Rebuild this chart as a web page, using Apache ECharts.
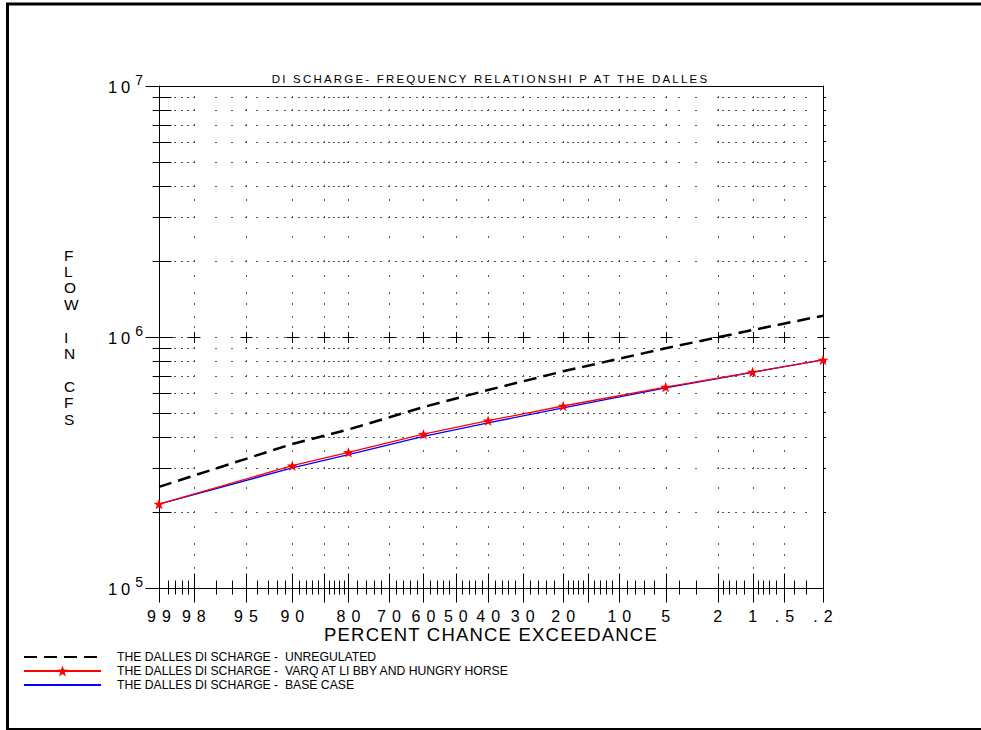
<!DOCTYPE html>
<html><head><meta charset="utf-8">
<script src="https://cdn.jsdelivr.net/npm/echarts@6/dist/echarts.min.js"></script>
<style>
html,body{margin:0;padding:0;background:#fff}
#c{width:981px;height:730px}
#c text[style*="11.5px"]{letter-spacing:2.2px}
#c text[style*="16px"]{letter-spacing:6px}
#c text[style*="16.5px"]{letter-spacing:4px}
#c text[style*="18.5px"]{letter-spacing:1.2px}
</style></head><body><div id="c"></div>
<script>
// ---- data (percent chance exceedance vs flow in cfs) ----
const exceedance  = [99, 90, 80, 60, 40, 20, 5, 1, 0.2];
const unregulated = [253000, 375000, 428000, 526000, 615000, 730000, 902000, 1066000, 1216000];
const varq        = [216000, 307000, 347000, 410000, 464000, 531000, 632000, 725000, 810000];
const baseCase    = [216000, 301000, 340000, 402000, 455000, 522000, 627000, 723000, 810000];

const seriesNames = [
  'THE DALLES DI SCHARGE -  UNREGULATED',
  'THE DALLES DI SCHARGE -  VARQ AT LI BBY AND HUNGRY HORSE',
  'THE DALLES DI SCHARGE -  BASE CASE'
];
const chartTitle = 'DI SCHARGE- FREQUENCY RELATIONSHI P AT THE DALLES';
const xTitle = 'PERCENT CHANCE EXCEEDANCE';
const yTitle = 'FLOW IN CFS';

// tick labels on probability axis
const xLabelExc  = [99, 98, 95, 90, 80, 70, 60, 50, 40, 30, 20, 10, 5, 2, 1, 0.5, 0.2];
const xLabelText = ['99','98','95','90','80','70','60','50','40','30','20','10','5','2','1','.5','.2'];
const xGridExc   = [98, 95, 90, 85, 80, 70, 60, 50, 40, 30, 20, 15, 10, 5, 2, 1, 0.5];
const xMinorExc  = [99,98.8,98.6,98.4,98.2,98,97,96,95,94,93,92,91,90,89,88,87,86,85,84,83,82,81,80,
  78,76,74,72,70,68,66,64,62,60,58,56,54,52,50,48,46,44,42,40,38,36,34,32,30,28,26,24,22,20,
  19,18,17,16,15,14,13,12,11,10,9,8,7,6,5,4,3,2,1.8,1.6,1.4,1.2,1,0.9,0.8,0.7,0.6,0.5,0.4,0.3,0.2];
const yLabelVals = [1e5, 1e6, 1e7];
const yMantissa  = [2,3,4,5,6,7,8,9];
const yDotMantissa = [1.1,1.2,1.35,1.5,1.75,2,2.5,3,3.5,4,5,6,7,8,9];

// ---- normal probability scale transform ----
function normInv(p){
  const a=[-3.969683028665376e+01,2.209460984245205e+02,-2.759285104469687e+02,1.383577518672690e+02,-3.066479806614716e+01,2.506628277459239e+00];
  const b=[-5.447609879822406e+01,1.615858368580409e+02,-1.556989798598866e+02,6.680131188771972e+01,-1.328068155288572e+01];
  const c=[-7.784894002430293e-03,-3.223964580411365e-01,-2.400758277161838e+00,-2.549732539343734e+00,4.374664141464968e+00,2.938163982698783e+00];
  const d=[7.784695709041462e-03,3.224671290700398e-01,2.445134137142996e+00,3.754408661907416e+00];
  const pl=0.02425, ph=1-pl; let q,r;
  if(p<pl){q=Math.sqrt(-2*Math.log(p));return (((((c[0]*q+c[1])*q+c[2])*q+c[3])*q+c[4])*q+c[5])/((((d[0]*q+d[1])*q+d[2])*q+d[3])*q+1);}
  if(p<=ph){q=p-0.5;r=q*q;return (((((a[0]*r+a[1])*r+a[2])*r+a[3])*r+a[4])*r+a[5])*q/(((((b[0]*r+b[1])*r+b[2])*r+b[3])*r+b[4])*r+1);}
  q=Math.sqrt(-2*Math.log(1-p));return -(((((c[0]*q+c[1])*q+c[2])*q+c[3])*q+c[4])*q+c[5])/((((d[0]*q+d[1])*q+d[2])*q+d[3])*q+1);
}
const zOf = e => normInv(1 - e/100);
const zMin = zOf(99), zMax = zOf(0.2);
const labelZ = xLabelExc.map(zOf);
const minorZ = xMinorExc.map(zOf);
const gridZ = xGridExc.map(zOf);
const majorSet = new Set(xGridExc.concat([99, 0.2]));

const yMinorVals = [], yDotVals = [];
[1e5, 1e6].forEach(d => { yMantissa.forEach(m => yMinorVals.push(m*d)); yDotMantissa.forEach(m => yDotVals.push(m*d)); });

const F = 'Liberation Sans';
const DOT = '#555';
const star = 'path://M0,-10L2.35,-3.24L9.51,-3.09L3.8,1.24L5.88,8.09L0,4L-5.88,8.09L-3.8,1.24L-9.51,-3.09L-2.35,-3.24Z';

const toPts = arr => exceedance.map((e, i) => [zOf(e), arr[i]]);

// tick data: kind 0 x-minor,1 x-major,2 y-minor,3 y-major
const tickData = [];
xMinorExc.forEach(e => tickData.push([zOf(e), 1e5, majorSet.has(e) ? 1 : 0]));
yMinorVals.forEach(v => tickData.push([zMin, v, 2]));
yLabelVals.forEach(v => tickData.push([zMin, v, 3]));

const hGridVals = yMinorVals.concat([1e6]);
const hidden = {opacity: 0, color: 'rgba(0,0,0,0)', borderWidth: 0};

const chart = echarts.init(document.getElementById('c'), null, {renderer: 'svg'});
chart.setOption({
  animation: false,
  backgroundColor: '#fff',
  title: {text: chartTitle, left: 'center', top: 73, padding: 0,
    textStyle: {fontFamily: F, fontSize: 11.5, fontWeight: 'normal', color: '#000'}},
  legend: {
    orient: 'vertical', left: 23, top: 650, padding: 0, itemWidth: 77, itemHeight: 14, itemGap: 0,
    selectedMode: false,
    data: [
      {name: seriesNames[0], itemStyle: hidden},
      {name: seriesNames[1]},
      {name: seriesNames[2], itemStyle: hidden}
    ],
    textStyle: {fontFamily: F, fontSize: 12.2, color: '#000', padding: [0, 0, 0, 11], lineHeight: 14}
  },
  grid: {left: 159, right: 158, top: 86, bottom: 142, containLabel: false},
  xAxis: [{
    type: 'value', min: zMin, max: zMax, position: 'bottom',
    axisLine: {show: true, onZero: false, lineStyle: {color: '#000', width: 1}},
    axisTick: {show: false}, splitLine: {show: false},
    axisLabel: {customValues: labelZ, margin: 22, color: '#000', fontFamily: F, fontSize: 16, lineHeight: 12, padding: [0, 0, 0, 6],
      formatter: v => { let bi = 0, bd = 1e9; labelZ.forEach((z, i) => { const d = Math.abs(z - v); if (d < bd) { bd = d; bi = i; } }); return xLabelText[bi]; }},
    name: xTitle, nameLocation: 'middle', nameGap: 39, nameMoveOverlap: false,
    nameTextStyle: {fontFamily: F, fontSize: 18.5, color: '#000', lineHeight: 14}
  }, {
    type: 'value', min: zMin, max: zMax, position: 'top',
    axisLine: {show: true, onZero: false, lineStyle: {color: '#000', width: 1}},
    axisTick: {show: false}, axisLabel: {show: false}, splitLine: {show: false}
  }],
  yAxis: [{
    type: 'log', logBase: 10, min: 1e5, max: 1e7, position: 'left',
    axisLine: {show: true, onZero: false, lineStyle: {color: '#000', width: 1}},
    axisTick: {show: false}, splitLine: {show: false}, minorTick: {show: false},
    axisLabel: {customValues: yLabelVals, margin: 16, color: '#000', padding: [0, 0, 4, 0],
      formatter: v => '{b|10}{s|' + Math.round(Math.log10(v)) + '}',
      rich: {b: {fontFamily: F, fontSize: 16.5, color: '#000', align: 'left', verticalAlign: 'bottom'},
             s: {fontFamily: F, fontSize: 14, color: '#000', align: 'left', verticalAlign: 'bottom', padding: [0, 0, 9, 9]}}}
  }, {
    type: 'log', logBase: 10, min: 1e5, max: 1e7, position: 'right',
    axisLine: {show: true, onZero: false, lineStyle: {color: '#000', width: 1}},
    axisTick: {show: true, customValues: yMinorVals, length: 3, inside: false, lineStyle: {color: '#000'}},
    axisLabel: {show: false}, splitLine: {show: false}
  }],
  graphic: [
    {type: 'line', shape: {x1: 7.5, y1: 3, x2: 7.5, y2: 730}, style: {stroke: '#000', lineWidth: 3}},
    {type: 'line', shape: {x1: 6, y1: 4, x2: 981, y2: 4}, style: {stroke: '#000', lineWidth: 3}},
    {type: 'line', shape: {x1: 6, y1: 729, x2: 981, y2: 729}, style: {stroke: '#000', lineWidth: 2}},
    {type: 'text', x: 64, y: 337, style: {text: yTitle.split('').join('\n'), fill: '#000',
      font: '15.5px ' + F, align: 'left', verticalAlign: 'middle', lineHeight: 16.4}}
  ],
  series: [
    {type: 'custom', name: 'hgrid', silent: true, z: 1,
      data: hGridVals.map(v => [zMin, v]),
      renderItem: (params, api) => {
        const v = api.value(1);
        const y = Math.round(api.coord([zMin, v])[1]);
        const ch = [];
        minorZ.forEach(z => {
          if (z <= zMin + 1e-9 || z >= zMax - 1e-9) return;
          const x = Math.round(api.coord([z, v])[0]);
          ch.push({type: 'rect', shape: {x: x - 1, y: y, width: 2, height: 1}, style: {fill: DOT}});
        });
        if (v === 1e6) {
          gridZ.concat([zMax]).forEach(z => {
            const x = Math.round(api.coord([z, v])[0]) + 0.5;
            ch.push({type: 'line', shape: {x1: x - 6, y1: y + 0.5, x2: x + 6, y2: y + 0.5}, style: {stroke: '#000', lineWidth: 1}});
            ch.push({type: 'line', shape: {x1: x, y1: y - 5, x2: x, y2: y + 6}, style: {stroke: '#000', lineWidth: 1}});
          });
        }
        return {type: 'group', children: ch};
      }},
    {type: 'custom', name: 'vgrid', silent: true, z: 1,
      data: gridZ.map(z => [z, 1e5]),
      renderItem: (params, api) => {
        const z = api.value(0);
        const x = Math.round(api.coord([z, 1e5])[0]);
        const ch = yDotVals.map(v => {
          const y = Math.round(api.coord([z, v])[1]);
          return {type: 'rect', shape: {x: x, y: y - 1, width: 1, height: 2}, style: {fill: DOT}};
        });
        return {type: 'group', children: ch};
      }},
    {type: 'custom', name: 'ticks', silent: true, z: 2,
      data: tickData,
      renderItem: (params, api) => {
        const k = api.value(2);
        const p = api.coord([api.value(0), api.value(1)]);
        const x = Math.round(p[0]) + 0.5, y = Math.round(p[1]) + 0.5;
        let s;
        if (k === 0) s = {x1: x, y1: y - 8, x2: x, y2: y + 6};
        else if (k === 1) s = {x1: x, y1: y - 15, x2: x, y2: y + 14};
        else if (k === 2) s = {x1: x - 7, y1: y, x2: x + 12, y2: y};
        else s = {x1: x - 14, y1: y, x2: x + 14, y2: y};
        return {type: 'line', shape: s, style: {stroke: '#000', lineWidth: 1}};
      }},
    {type: 'line', name: seriesNames[0], data: toPts(unregulated), z: 3,
      symbol: 'none', showSymbol: false, color: '#000', itemStyle: {color: '#000'},
      lineStyle: {color: '#000', width: 2.5, type: [13, 7]}},
    {type: 'line', name: seriesNames[2], data: toPts(baseCase), z: 4,
      symbol: 'none', showSymbol: false, color: '#0000ff', itemStyle: {color: '#0000ff'},
      lineStyle: {color: '#0000ff', width: 1.3}},
    {type: 'line', name: seriesNames[1], data: toPts(varq), z: 5,
      symbol: star, symbolSize: 11, symbolKeepAspect: true, showSymbol: true, color: '#ff0000',
      itemStyle: {color: '#ff0000'},
      lineStyle: {color: '#ff0000', width: 1.3}}
  ]
});
</script>
</body></html>
